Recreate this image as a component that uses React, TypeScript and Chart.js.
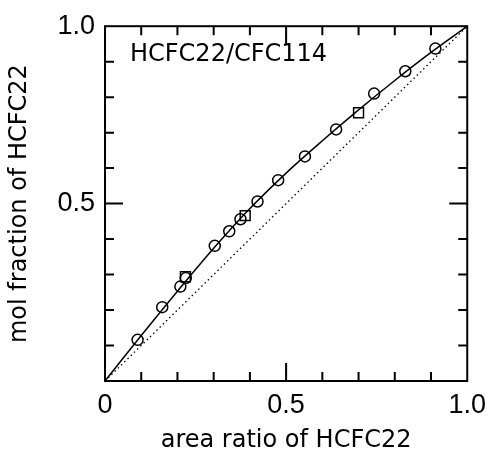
import React, { useEffect, useRef } from 'react';
import { Chart, registerables } from 'chart.js';

Chart.register(...registerables);

// Measured points (circles and squares)
const circleX = [0.090, 0.158, 0.208, 0.223, 0.303, 0.343, 0.374, 0.421, 0.478, 0.552, 0.638, 0.743, 0.829, 0.912];
const circleY = [0.116, 0.208, 0.266, 0.290, 0.381, 0.422, 0.456, 0.506, 0.566, 0.633, 0.709, 0.810, 0.873, 0.937];
const squareX = [0.222, 0.387, 0.700];
const squareY = [0.294, 0.466, 0.756];

// Fitted curve
const fitX = [0, 0.1, 0.2, 0.3, 0.4, 0.5, 0.6, 0.7, 0.8, 0.9, 1.0];
const fitY = [0, 0.128, 0.253, 0.374, 0.486, 0.586, 0.677, 0.764, 0.847, 0.926, 1.0];

// Diagonal reference line
const diagX = [0, 1];
const diagY = [0, 1];

// Axes
const tickValues = [0, 0.5, 1];
const xTickLabels = ['0', '0.5', '1.0'];
const yTickLabels = ['', '0.5', '1.0'];
const tickMarks = [0.1, 0.2, 0.3, 0.4, 0.5, 0.6, 0.7, 0.8, 0.9];
const majorTickMark = 0.5;
const xTitle = 'area ratio of HCFC22';
const yTitle = 'mol fraction of HCFC22';
const chartLabel = 'HCFC22/CFC114';

const toPoints = (xs: number[], ys: number[]) => xs.map((x, i) => ({ x, y: ys[i] }));

const framePlugin = {
  id: 'frameTicks',
  afterDatasetsDraw(chart: any) {
    const { ctx, chartArea: a, scales } = chart;
    const xs = scales.x;
    const ys = scales.y;
    ctx.save();
    ctx.strokeStyle = '#000';
    ctx.lineWidth = 2;
    ctx.strokeRect(a.left, a.top, a.right - a.left, a.bottom - a.top);
    ctx.beginPath();
    for (const v of tickMarks) {
      const len = Math.abs(v - majorTickMark) < 1e-9 ? 18 : 9;
      const px = xs.getPixelForValue(v);
      const py = ys.getPixelForValue(v);
      ctx.moveTo(px, a.bottom);
      ctx.lineTo(px, a.bottom - len);
      ctx.moveTo(px, a.top);
      ctx.lineTo(px, a.top + len);
      ctx.moveTo(a.left, py);
      ctx.lineTo(a.left + len, py);
      ctx.moveTo(a.right, py);
      ctx.lineTo(a.right - len, py);
    }
    ctx.stroke();
    ctx.fillStyle = '#000';
    ctx.font = '24px "DejaVu Sans"';
    ctx.textAlign = 'left';
    ctx.textBaseline = 'middle';
    ctx.fillText(chartLabel, a.left + 25, a.top + 29);
    ctx.restore();
  },
};

export default function App() {
  const canvasRef = useRef<HTMLCanvasElement | null>(null);

  useEffect(() => {
    if (!canvasRef.current) return;
    const chart = new Chart(canvasRef.current, {
      type: 'scatter',
      data: {
        datasets: [
          {
            type: 'line',
            data: toPoints(diagX, diagY),
            borderColor: '#000',
            borderWidth: 1.3,
            borderDash: [1.5, 3],
            pointRadius: 0,
            fill: false,
          },
          {
            type: 'line',
            data: toPoints(fitX, fitY),
            borderColor: '#000',
            borderWidth: 1.5,
            pointRadius: 0,
            cubicInterpolationMode: 'monotone',
            fill: false,
          },
          {
            data: toPoints(circleX, circleY),
            pointStyle: 'circle',
            pointRadius: 5.5,
            borderColor: '#000',
            borderWidth: 1.5,
            backgroundColor: 'rgba(0,0,0,0)',
            showLine: false,
          },
          {
            data: toPoints(squareX, squareY),
            pointStyle: 'rect',
            pointRadius: 7,
            borderColor: '#000',
            borderWidth: 1.5,
            backgroundColor: 'rgba(0,0,0,0)',
            showLine: false,
          },
        ],
      } as any,
      options: {
        responsive: false,
        animation: false,
        layout: { padding: { top: 21, right: 26, left: 0, bottom: 0 } },
        plugins: { legend: { display: false }, tooltip: { enabled: false } },
        scales: {
          x: {
            type: 'linear',
            min: 0,
            max: 1,
            grid: { display: false, drawTicks: false },
            border: { display: false },
            afterBuildTicks: (s: any) => {
              s.ticks = tickValues.map((v) => ({ value: v }));
            },
            ticks: {
              callback: (_v: any, i: number) => xTickLabels[i],
              font: { family: 'Liberation Sans', size: 27 },
              color: '#000',
              padding: 8,
              maxRotation: 0,
              autoSkip: false,
            },
            title: {
              display: true,
              text: xTitle,
              font: { family: 'DejaVu Sans', size: 24 },
              color: '#000',
              padding: { top: 0, bottom: 6 },
            },
            afterFit: (s: any) => {
              s.height = 80;
            },
          },
          y: {
            type: 'linear',
            min: 0,
            max: 1,
            grid: { display: false, drawTicks: false },
            border: { display: false },
            afterBuildTicks: (s: any) => {
              s.ticks = tickValues.map((v) => ({ value: v }));
            },
            ticks: {
              callback: (_v: any, i: number) => yTickLabels[i],
              font: { family: 'Liberation Sans', size: 27 },
              color: '#000',
              padding: 10,
              autoSkip: false,
            },
            title: {
              display: true,
              text: yTitle,
              font: { family: 'DejaVu Sans', size: 24 },
              color: '#000',
              padding: { top: 5, bottom: 0 },
            },
            afterFit: (s: any) => {
              s.width = 105;
            },
          },
        },
      } as any,
      plugins: [framePlugin],
    });
    return () => chart.destroy();
  }, []);

  return (
    <div style={{ position: 'fixed', left: 0, top: 0, width: 494, height: 461, background: '#fff' }}>
      <canvas ref={canvasRef} width={494} height={461} style={{ display: 'block' }} />
    </div>
  );
}
